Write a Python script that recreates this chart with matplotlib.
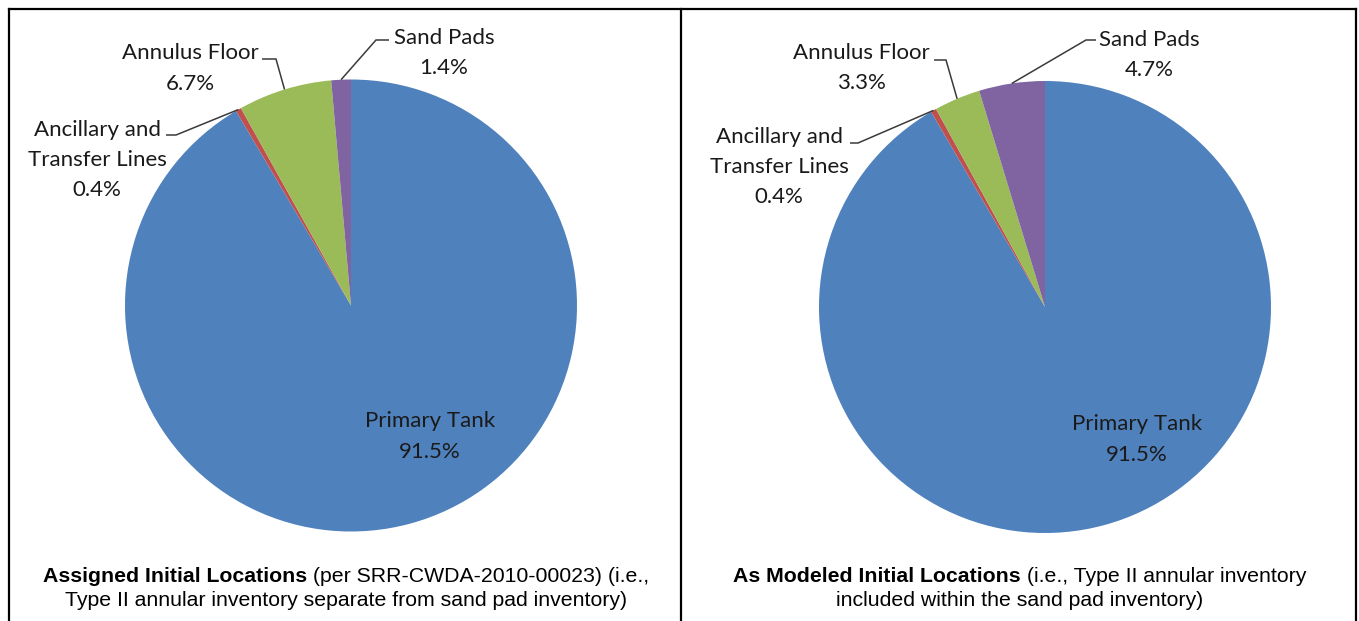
import matplotlib
matplotlib.use("Agg")
import matplotlib.pyplot as plt
import numpy as np

W, H = 1359, 621

# ---------------- data ----------------
categories = ["Primary Tank", "Ancillary and\nTransfer Lines", "Annulus Floor", "Sand Pads"]
assigned_pct = [91.5, 0.4, 6.7, 1.4]
modeled_pct = [91.5, 0.4, 3.3, 4.7]
colors = ["#4F81BD", "#C0504D", "#9BBB59", "#8064A2"]

caption_left_bold = "Assigned Initial Locations"
caption_left_rest = " (per SRR-CWDA-2010-00023) (i.e.,"
caption_left_line2 = "Type II annular inventory separate from sand pad inventory)"
caption_right_bold = "As Modeled Initial Locations"
caption_right_rest = " (i.e., Type II annular inventory"
caption_right_line2 = "included within the sand pad inventory)"

# ---------------- layout (pixel coordinates, y measured from top) ----------------
panels = [
    dict(values=assigned_pct, center=(351, 305.5), radius=226,
         label_pos=[(430, 421, 31), (97, 130, 30), (190, 53, 31), (444, 38, 30)],
         leaders=[None, (176, 135, 166), (276, 59, 262), (376, 40, 389)],
         cap_x=346, cap=(caption_left_bold, caption_left_rest, caption_left_line2)),
    dict(values=modeled_pct, center=(1045, 307), radius=226,
         label_pos=[(1137, 424, 31), (779, 137, 30), (861, 53, 30), (1149, 40, 30)],
         leaders=[None, (858, 143, 850), (946, 60, 934), (1086, 40, 1096)],
         cap_x=1019.5, cap=(caption_right_bold, caption_right_rest, caption_right_line2)),
]

LABEL_FONT = dict(family=["Lato", "DejaVu Sans"], size=16, color="#1a1a1a")
CAP_FONT = dict(family=["Liberation Sans", "DejaVu Sans"], size=15.3, color="black")

fig = plt.figure(figsize=(W / 100, H / 100), dpi=100)
ax = fig.add_axes([0, 0, 1, 1])


def Y(y):
    return H - y


for p in panels:
    cx, cy = p["center"]
    R = p["radius"]
    wedges, _ = ax.pie(p["values"], colors=colors, startangle=90, counterclock=False,
                       center=(cx, Y(cy)), radius=R, frame=True,
                       wedgeprops=dict(linewidth=0, antialiased=True))
    for i, w in enumerate(wedges):
        lines = categories[i].split("\n") + [f"{p['values'][i]:.1f}%"]
        lx, ly, dy = p["label_pos"][i]
        for k, s in enumerate(lines):
            ax.text(lx, Y(ly + k * dy), s, ha="center", va="center", **LABEL_FONT)
        ld = p["leaders"][i]
        if ld is not None:
            mid = np.deg2rad((w.theta1 + w.theta2) / 2)
            axp = cx + R * np.cos(mid)
            ayp = Y(cy) + R * np.sin(mid)
            ex, ey, endx = ld
            ax.plot([axp, ex, endx], [ayp, Y(ey), Y(ey)], color="#3a3a3a", lw=1.1,
                    solid_capstyle="butt", solid_joinstyle="miter")

ax.set_xlim(0, W)
ax.set_ylim(0, H)
ax.set_aspect("auto")
ax.set_axis_off()

# panel borders
bl = dict(color="black", lw=1.6, solid_capstyle="projecting")
ax.plot([9, 1356], [Y(9), Y(9)], **bl)
ax.plot([9, 9], [Y(9), Y(625)], **bl)
ax.plot([681, 681], [Y(9), Y(625)], **bl)
ax.plot([1356, 1356], [Y(9), Y(625)], **bl)

# captions with mixed bold / regular text
fig.canvas.draw()
rend = fig.canvas.get_renderer()


def twidth(s, **kw):
    t = ax.text(0, 0, s, **kw)
    w = t.get_window_extent(renderer=rend).width
    t.remove()
    return w


for p in panels:
    b, r, l2 = p["cap"]
    wb = twidth(b, weight="bold", **CAP_FONT)
    wr = twidth(r, **CAP_FONT)
    x0 = p["cap_x"] - (wb + wr) / 2
    ax.text(x0, Y(577), b, ha="left", va="center", weight="bold", **CAP_FONT)
    ax.text(x0 + wb, Y(577), r, ha="left", va="center", **CAP_FONT)
    ax.text(p["cap_x"], Y(600), l2, ha="center", va="center", **CAP_FONT)

fig.savefig("out.png", dpi=100, facecolor="white")
